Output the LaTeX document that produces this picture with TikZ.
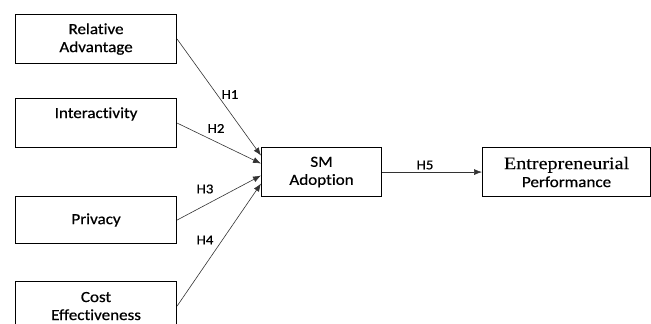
\documentclass[tikz,border=0pt]{standalone}
\usepackage{fontspec}
\setmainfont{Carlito}[FakeStretch=1.1,FakeBold=0.6,Ligatures=NoCommon]
\newfontfamily\serifx{Liberation Serif}[FakeStretch=1.15,FakeBold=0.4]
\usetikzlibrary{arrows.meta}
\begin{document}
\begin{tikzpicture}[x=1pt,y=-1pt,
  box/.style={draw=black,line width=1.1pt,inner sep=0pt,anchor=north west,
    minimum height=49pt,align=center,font=\fontsize{15.5}{18}\selectfont},
  arr/.style={draw=black!80,line width=0.6pt,-{Latex[length=8pt,width=6pt]}},
  hl/.style={inner sep=0pt,font=\fontsize{13.5}{15}\selectfont}]
\useasboundingbox (0,0) rectangle (651,324);
\clip (0,0) rectangle (651,324);
\node[box,minimum width=161pt] (ra) at (15,14) {Relative\\Advantage};
\node[box,minimum width=161pt] (ia) at (15,98) {Interactivity\\\phantom{Advantage}};
\node[box,minimum width=161pt,minimum height=47pt] (pr) at (15,196) {Privacy};
\node[box,minimum width=161pt] (ce) at (15,281) {Cost\\Effectiveness};
\node[box,minimum width=120pt] (sm) at (261,147) {SM\\Adoption};
\node[box,minimum width=168pt] (ep) at (482,147) {{\serifx\fontsize{17.5}{18}\selectfont Entrepreneurial}\\Performance};
\draw[arr] (ra.east) -- ([yshift=16.5pt]sm.west);
\draw[arr] (ia.east) -- ([yshift=8.5pt]sm.west);
\draw[arr] (pr.east) -- ([yshift=-3.5pt]sm.west);
\draw[arr] (ce.east) -- ([yshift=-11.5pt]sm.west);
\draw[arr] (sm.east) -- (ep.west);
\node[hl] (h1) at (230,94.5) {H1};
\node[hl] (h2) at (216,128.5) {H2};
\node[hl] (h3) at (205,189) {H3};
\node[hl] (h4) at (205,240) {H4};
\node[hl] (h5) at (425,165) {H5};
\end{tikzpicture}
\end{document}
